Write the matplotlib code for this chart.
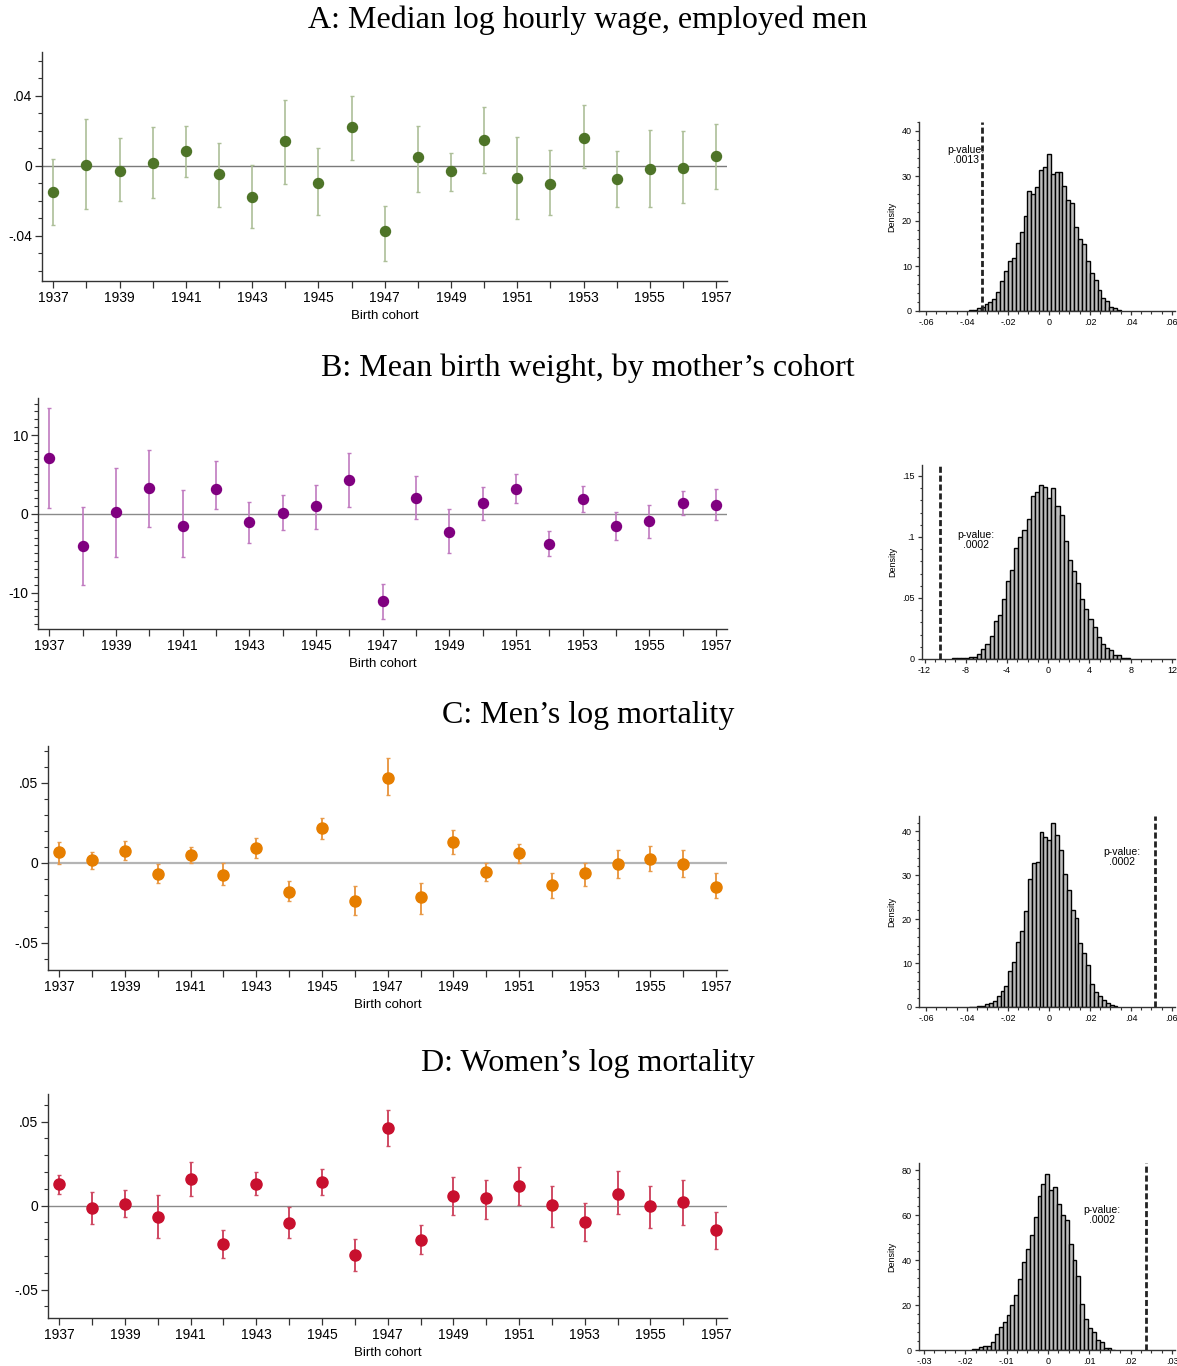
import matplotlib
matplotlib.use('Agg')
import matplotlib.pyplot as plt
import numpy as np
from matplotlib.ticker import MultipleLocator, FuncFormatter

W, H = 1177, 1366

cohorts = list(range(1937, 1958))

# A: median log hourly wage, employed men
wage_est = [-0.0150, 0.0002, -0.0029, 0.0017, 0.0082, -0.0048, -0.0177, 0.0141, -0.0099, 0.0221, -0.0375,
            0.0051, -0.0030, 0.0145, -0.0070, -0.0105, 0.0158, -0.0078, -0.0017, -0.0013, 0.0057]
wage_hi = [0.0040, 0.0267, 0.0156, 0.0221, 0.0227, 0.0130, 0.0004, 0.0373, 0.0101, 0.0398, -0.0229,
           0.0229, 0.0070, 0.0337, 0.0164, 0.0090, 0.0345, 0.0084, 0.0204, 0.0198, 0.0236]
wage_lo = [-0.0337, -0.0246, -0.0200, -0.0183, -0.0065, -0.0236, -0.0358, -0.0107, -0.0284, 0.0030, -0.0545,
           -0.0150, -0.0145, -0.0044, -0.0303, -0.0282, -0.0013, -0.0238, -0.0236, -0.0211, -0.0133]

# B: mean birth weight, by mother's cohort
bw_est = [7.08, -4.03, 0.25, 3.26, -1.53, 3.22, -1.06, 0.13, 0.97, 4.24, -11.06,
          2.03, -2.29, 1.36, 3.22, -3.77, 1.91, -1.53, -0.93, 1.40, 1.14]
bw_hi = [13.43, 0.85, 5.76, 8.14, 3.05, 6.74, 1.53, 2.37, 3.64, 7.67, -8.86,
         4.79, 0.59, 3.43, 5.04, -2.20, 3.56, 0.25, 1.14, 2.92, 3.18]
bw_lo = [0.76, -8.98, -5.47, -1.61, -5.47, 0.59, -3.69, -1.99, -1.91, 0.89, -13.31,
         -0.68, -4.96, -0.81, 1.40, -5.30, 0.25, -3.31, -3.05, -0.08, -0.76]

# C: men's log mortality
mm_est = [0.0069, 0.0015, 0.0075, -0.0069, 0.0046, -0.0075, 0.0094, -0.0185, 0.0215, -0.0240, 0.0531,
          -0.0217, 0.0131, -0.0056, 0.0058, -0.0142, -0.0065, -0.0008, 0.0023, -0.0006, -0.0152]
mm_hi = [0.0131, 0.0067, 0.0133, -0.0008, 0.0100, -0.0004, 0.0156, -0.0113, 0.0281, -0.0148, 0.0656,
         -0.0125, 0.0206, 0.0000, 0.0119, -0.0063, 0.0000, 0.0077, 0.0104, 0.0077, -0.0063]
mm_lo = [-0.0010, -0.0038, 0.0015, -0.0127, -0.0004, -0.0142, 0.0029, -0.0242, 0.0150, -0.0329, 0.0423,
         -0.0319, 0.0052, -0.0117, -0.0004, -0.0219, -0.0144, -0.0096, -0.0054, -0.0088, -0.0223]

# D: women's log mortality
wm_est = [0.0129, -0.0016, 0.0010, -0.0067, 0.0157, -0.0228, 0.0131, -0.0105, 0.0139, -0.0294, 0.0460,
          -0.0202, 0.0056, 0.0044, 0.0117, 0.0002, -0.0099, 0.0069, -0.0004, 0.0020, -0.0147]
wm_hi = [0.0185, 0.0081, 0.0095, 0.0063, 0.0260, -0.0147, 0.0198, -0.0006, 0.0216, -0.0200, 0.0571,
         -0.0117, 0.0169, 0.0151, 0.0230, 0.0117, 0.0016, 0.0208, 0.0115, 0.0155, -0.0036]
wm_lo = [0.0069, -0.0109, -0.0067, -0.0194, 0.0056, -0.0310, 0.0062, -0.0194, 0.0063, -0.0389, 0.0353,
         -0.0290, -0.0056, -0.0079, 0.0002, -0.0125, -0.0212, -0.0052, -0.0135, -0.0117, -0.0260]

# permutation histograms (density per bin)
hist_a_start, hist_a_width = -0.039, 0.0019
hist_a = [0.2, 0.3, 0.6, 1.0, 1.6, 2.0, 2.7, 4.3, 6.7, 8.9, 11.2, 11.8, 15.2, 17.5, 21.1, 26.6, 26.1, 27.6,
          31.4, 31.9, 35.0, 30.5, 30.9, 30.8, 27.8, 24.7, 24.1, 18.6, 16.0, 14.9, 11.2, 8.4, 6.8, 4.6, 2.8,
          2.2, 1.0, 0.6, 0.3]
hist_b_start, hist_b_width = -9.3, 0.4
hist_b = [0.0005, 0.0005, 0.0005, 0.001, 0.002, 0.002, 0.004, 0.008, 0.012, 0.019, 0.031, 0.036, 0.049,
          0.064, 0.073, 0.091, 0.100, 0.106, 0.115, 0.134, 0.137, 0.143, 0.141, 0.132, 0.140, 0.125, 0.118,
          0.097, 0.081, 0.072, 0.062, 0.049, 0.041, 0.033, 0.026, 0.018, 0.012, 0.009, 0.007, 0.003, 0.003,
          0.001, 0.0005]
hist_c_start, hist_c_width = -0.0388, 0.0019
hist_c = [0.1, 0.0, 0.15, 0.3, 0.7, 1.0, 1.3, 2.4, 3.6, 4.7, 8.1, 10.3, 14.7, 17.3, 21.9, 29.2, 32.8, 33.1,
          39.8, 38.8, 38.1, 41.9, 39.1, 35.7, 30.3, 26.7, 22.2, 20.3, 14.6, 12.3, 9.6, 5.3, 3.5, 2.4, 1.5,
          0.9, 0.5, 0.2]
hist_d_start, hist_d_width = -0.0185, 0.00094
hist_d = [0.3, 0.4, 1.2, 2.0, 1.8, 3.7, 7.2, 10.1, 12.4, 15.7, 20.2, 24.3, 31.7, 39.3, 45.1, 51.1, 59.3,
          68.7, 74.1, 78.3, 71.4, 72.5, 65.1, 60.3, 57.8, 47.0, 40.2, 33.0, 20.3, 13.8, 10.0, 7.8, 4.5, 3.5,
          1.0, 1.0, 0.2]

observed = [-0.0325, -10.5, 0.0517, 0.0237]
pvalues = ['.0013', '.0002', '.0002', '.0002']

titles = ['A: Median log hourly wage, employed men',
          'B: Mean birth weight, by mother\u2019s cohort',
          'C: Men\u2019s log mortality',
          'D: Women\u2019s log mortality']

SANS = ['Liberation Sans', 'DejaVu Sans']
SERIF = ['Liberation Serif', 'DejaVu Serif']
plt.rcParams['font.family'] = SANS
AX_COL = '#333333'


def stata_fmt(v, pos=None):
    if abs(v) < 1e-12:
        return '0'
    s = '%g' % round(v, 8)
    if s.startswith('0.'):
        s = s[1:]
    s = s.replace('-0.', '-.')
    return s


def rect(l, t, r, b):
    return [l / W, 1 - b / H, (r - l) / W, (b - t) / H]


def style_axes(ax, fs, major_len, minor_len):
    for side in ['top', 'right']:
        ax.spines[side].set_visible(False)
    for side in ['left', 'bottom']:
        ax.spines[side].set_color(AX_COL)
        ax.spines[side].set_linewidth(1.0)
    ax.tick_params(which='major', direction='out', length=major_len, width=0.9, color=AX_COL,
                   labelsize=fs, pad=2)
    ax.tick_params(which='minor', direction='out', length=minor_len, width=0.8, color=AX_COL)
    ax.yaxis.set_major_formatter(FuncFormatter(stata_fmt))
    ax.xaxis.set_major_formatter(FuncFormatter(stata_fmt))


fig = plt.figure(figsize=(W / 100, H / 100), dpi=100)

panels = [
    dict(est=wage_est, hi=wage_hi, lo=wage_lo, mc='#4e7428', ec='#adbf98', elw=1.2, ms=7.2,
         zc='#7a7a7a', zlw=1.0, ylim=(-0.066, 0.065), ymaj=0.04, ymin=0.01,
         left=(42, 52, 727, 281), right=(919, 122, 1175, 311),
         title_y=20,
         hs=hist_a_start, hw=hist_a_width, hv=hist_a, hxlim=(-0.0634, 0.0615), hylim=(0, 42.0),
         hxmaj=0.02, hxmin=0.005, hymaj=10, hymin=2, txt=(-0.0405, 34.7)),
    dict(est=bw_est, hi=bw_hi, lo=bw_lo, mc='#800080', ec='#c07ac0', elw=1.2, ms=7.2,
         zc='#8a8a8a', zlw=1.0, ylim=(-14.6, 14.7), ymaj=10, ymin=1,
         left=(38, 398, 727, 629), right=(922, 465, 1175, 659),
         title_y=368,
         hs=hist_b_start, hw=hist_b_width, hv=hist_b, hxlim=(-12.25, 12.3), hylim=(0, 0.159),
         hxmaj=4, hxmin=1, hymaj=0.05, hymin=0.01, txt=(-7.0, 0.0976)),
    dict(est=mm_est, hi=mm_hi, lo=mm_lo, mc='#e67e00', ec='#e99a48', elw=1.4, ms=8,
         zc='#b4b4b4', zlw=1.6, ylim=(-0.0671, 0.0729), ymaj=0.05, ymin=0.01,
         left=(48, 746, 727, 970), right=(919, 816, 1175, 1007),
         title_y=716,
         hs=hist_c_start, hw=hist_c_width, hv=hist_c, hxlim=(-0.0634, 0.0615), hylim=(0, 43.5),
         hxmaj=0.02, hxmin=0.005, hymaj=10, hymin=2, txt=(0.0358, 34.2)),
    dict(est=wm_est, hi=wm_hi, lo=wm_lo, mc='#c8102e', ec='#cf4a63', elw=1.4, ms=8,
         zc='#8a8a8a', zlw=1.0, ylim=(-0.0669, 0.0665), ymaj=0.05, ymin=0.01,
         left=(48, 1094, 727, 1318), right=(919, 1163, 1175, 1350),
         title_y=1064,
         hs=hist_d_start, hw=hist_d_width, hv=hist_d, hxlim=(-0.0312, 0.0307), hylim=(0, 83.3),
         hxmaj=0.01, hxmin=0.0025, hymaj=20, hymin=4, txt=(0.0131, 60.1)),
]

x = np.array(cohorts)
for i, p in enumerate(panels):
    est = np.array(p['est'])
    hi = np.array(p['hi'])
    lo = np.array(p['lo'])

    ax = fig.add_axes(rect(*p['left']))
    ax.axhline(0, color=p['zc'], lw=p['zlw'], zorder=1)
    ax.errorbar(x, est, yerr=[est - lo, hi - est], fmt='none', ecolor=p['ec'], elinewidth=p['elw'],
                capsize=1.3, capthick=1.0, zorder=2)
    ax.plot(x, est, 'o', color=p['mc'], ms=p['ms'], mec=p['mc'], zorder=3)
    ax.set_xlim(1936.66, 1957.33)
    ax.set_ylim(*p['ylim'])
    style_axes(ax, 10, 5, 3)
    ax.set_xticks(cohorts)
    ax.set_xticklabels([str(c) if (c - 1937) % 2 == 0 else '' for c in cohorts])
    ax.yaxis.set_major_locator(MultipleLocator(p['ymaj']))
    ax.yaxis.set_minor_locator(MultipleLocator(p['ymin']))
    ax.set_xlabel('Birth cohort', fontsize=9.5, labelpad=3.5)

    fig.text(588 / W, 1 - p['title_y'] / H, titles[i], ha='center', va='center',
             fontsize=23, family=SERIF)

    hx = fig.add_axes(rect(*p['right']))
    edges = p['hs'] + p['hw'] * np.arange(len(p['hv']))
    hx.bar(edges, p['hv'], width=p['hw'], align='edge', color='#bdbdbd', edgecolor='black',
           linewidth=1.0, zorder=2)
    hx.axvline(observed[i], color='#222222', lw=2.0, ls=(0, (2.2, 1.0)), zorder=3)
    hx.set_xlim(*p['hxlim'])
    hx.set_ylim(*p['hylim'])
    style_axes(hx, 6.5, 3, 1.8)
    hx.xaxis.set_major_locator(MultipleLocator(p['hxmaj']))
    hx.xaxis.set_minor_locator(MultipleLocator(p['hxmin']))
    hx.yaxis.set_major_locator(MultipleLocator(p['hymaj']))
    hx.yaxis.set_minor_locator(MultipleLocator(p['hymin']))
    hx.set_ylabel('Density', fontsize=6.5, labelpad=4)
    hx.text(p['txt'][0], p['txt'][1], 'p-value:\n' + pvalues[i], ha='center', va='center',
            fontsize=7.5, linespacing=0.95, zorder=4)

fig.savefig('out.png', dpi=100)
